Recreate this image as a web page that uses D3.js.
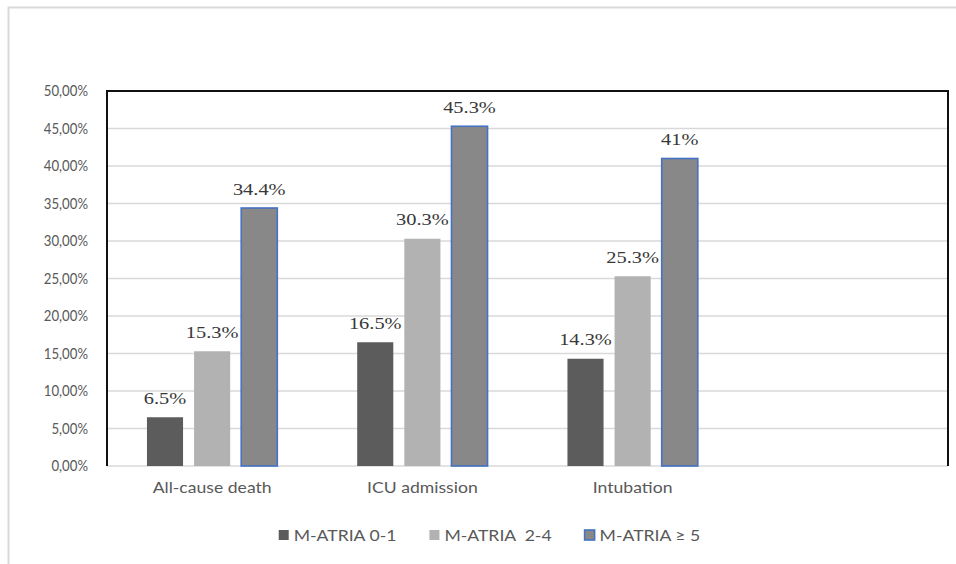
<!DOCTYPE html>
<html>
<head>
<meta charset="utf-8">
<script src="https://cdn.jsdelivr.net/npm/d3@7"></script>
<style>
  html, body { margin: 0; padding: 0; background: #fff; }
  svg { display: block; }
</style>
</head>
<body>
<svg id="chart" width="956" height="564"></svg>
<script>
// Outcome categories (the fourth slot is left empty on the axis)
const categories = ["All-cause death", "ICU admission", "Intubation", ""];
// Score groups shown in the legend
const seriesNames = ["M-ATRIA 0-1", "M-ATRIA  2-4", "M-ATRIA \u2265 5"];
// Event rates in percent, one array per score group
const values01 = [6.5, 16.5, 14.3];
const values24 = [15.3, 30.3, 25.3];
const values5 = [34.4, 45.3, 41];
// Y axis ticks (percent)
const yTicks = [0, 5, 10, 15, 20, 25, 30, 35, 40, 45, 50];

const seriesValues = [values01, values24, values5];
const fills = ["#5c5c5c", "#b2b2b2", "#888888"];
const strokes = [null, null, "#4472c4"];

const svg = d3.select("#chart");
const W = 956, H = 564;

// rescale a text run horizontally while keeping its glyph height
function stretch(sel, k) {
  sel.each(function () {
    const len = this.getComputedTextLength();
    if (len > 0) {
      d3.select(this)
        .attr("textLength", len * k)
        .attr("lengthAdjust", "spacingAndGlyphs");
    }
  });
}

// outer chart frame
svg.append("rect")
  .attr("x", 8.5).attr("y", 7.5)
  .attr("width", W).attr("height", H)
  .attr("fill", "#fff")
  .attr("stroke", "#d9d9d9").attr("stroke-width", 2);

const plot = { left: 107, right: 948, top: 91, bottom: 466 };

const x0 = d3.scaleBand()
  .domain(d3.range(categories.length))
  .range([plot.left, plot.right])
  .padding(0);

const bw = x0.bandwidth();
const x1 = d3.scaleBand()
  .domain(d3.range(seriesNames.length))
  .range([bw * 0.19, bw * 0.81])
  .paddingInner(0.234)
  .paddingOuter(0);

const y = d3.scaleLinear().domain([0, 50]).range([plot.bottom, plot.top]);

const locale = d3.formatLocale({ decimal: ",", thousands: ".", grouping: [3], currency: ["", ""] });
const fmt2 = locale.format(".2f");

// horizontal gridlines
svg.append("g")
  .selectAll("line")
  .data(yTicks)
  .join("line")
  .attr("x1", plot.left).attr("x2", plot.right)
  .attr("y1", d => y(d)).attr("y2", d => y(d))
  .attr("stroke", "#d9d9d9").attr("stroke-width", 1.5);

// y axis labels
const yAxis = d3.axisLeft(y)
  .tickValues(yTicks)
  .tickSize(0)
  .tickPadding(0)
  .tickFormat(d => fmt2(d) + "%");
const yg = svg.append("g")
  .attr("transform", `translate(${plot.left - 19},0)`)
  .call(yAxis);
yg.select(".domain").remove();
yg.selectAll("text")
  .attr("font-family", "Lato, 'Open Sans', sans-serif")
  .attr("font-size", 15)
  .attr("fill", "#595959")
  .call(stretch, 0.88);

// x axis category labels
const xAxis = d3.axisBottom(x0).tickSize(0).tickPadding(0).tickFormat(i => categories[i]);
const xg = svg.append("g")
  .attr("transform", `translate(0,${plot.bottom + 16})`)
  .call(xAxis);
xg.select(".domain").remove();
xg.selectAll("text")
  .attr("font-family", "Lato, 'Open Sans', sans-serif")
  .attr("font-size", 16)
  .attr("fill", "#595959")
  .call(stretch, 1.1);

// bars
const groups = svg.append("g")
  .selectAll("g")
  .data(seriesValues)
  .join("g");

groups.selectAll("rect")
  .data((vals, s) => vals.map((v, i) => ({ v, i, s })))
  .join("rect")
  .attr("x", d => x0(d.i) + x1(d.s))
  .attr("y", d => y(d.v))
  .attr("width", x1.bandwidth())
  .attr("height", d => y(0) - y(d.v))
  .attr("fill", d => fills[d.s])
  .attr("stroke", d => strokes[d.s] || "none")
  .attr("stroke-width", 1.6);

// value labels
groups.selectAll("text")
  .data((vals, s) => vals.map((v, i) => ({ v, i, s })))
  .join("text")
  .attr("x", d => x0(d.i) + x1(d.s) + x1.bandwidth() / 2)
  .attr("y", d => y(d.v) - 13.5)
  .attr("text-anchor", "middle")
  .attr("font-family", "'Liberation Serif', 'Times New Roman', serif")
  .attr("font-size", 17)
  .attr("fill", "#383838")
  .text(d => d.v + "%")
  .call(stretch, 1.2);

// plot frame: left, top, right edges
svg.append("path")
  .attr("d", `M${plot.left},${plot.bottom} V${plot.top} H${plot.right} V${plot.bottom}`)
  .attr("fill", "none")
  .attr("stroke", "#111")
  .attr("stroke-width", 2);

// legend
const legend = svg.append("g");
const items = legend.selectAll("g")
  .data(seriesNames)
  .join("g");
items.append("rect")
  .attr("width", 10).attr("height", 10)
  .attr("y", -5)
  .attr("fill", (d, i) => fills[i])
  .attr("stroke", (d, i) => strokes[i] || "none")
  .attr("stroke-width", 1.6);
items.append("text")
  .attr("x", 15)
  .attr("dy", "0.35em")
  .attr("font-family", "Lato, 'Open Sans', sans-serif")
  .attr("font-size", 16)
  .attr("fill", "#595959")
  .attr("xml:space", "preserve")
  .style("white-space", "pre")
  .text(d => d)
  .call(stretch, 1.1);

const gap = 33;
let cursor = 0;
const widths = [];
items.each(function () {
  const t = this.querySelector("text");
  const tl = t.getAttribute("textLength");
  widths.push(15 + (tl ? +tl : t.getComputedTextLength()));
});
const total = d3.sum(widths) + gap * (widths.length - 1);
const startX = 489.5 - total / 2;
items.attr("transform", (d, i) => {
  const tx = startX + cursor;
  cursor += widths[i] + gap;
  return `translate(${tx},535)`;
});
</script>
</body>
</html>
